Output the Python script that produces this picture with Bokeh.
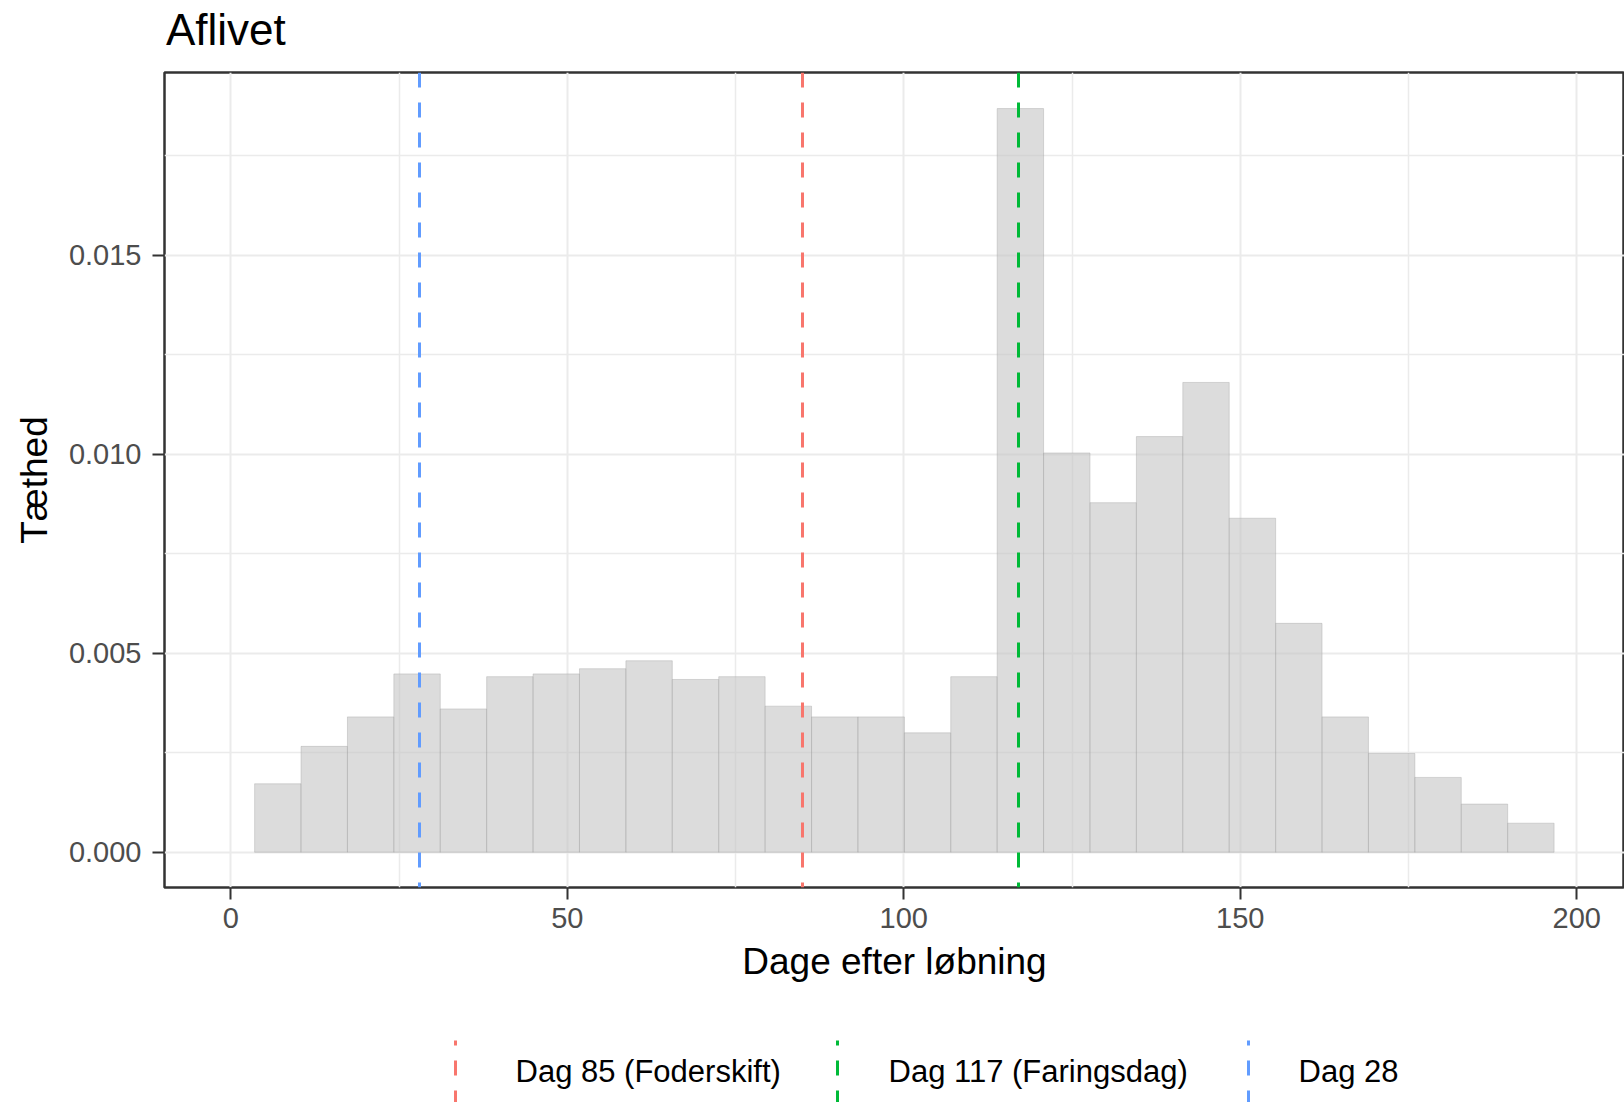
from bokeh.plotting import figure
from bokeh.layouts import column
from bokeh.models import Range1d, FixedTicker, Div
from bokeh.core.properties import value
from bokeh.embed import file_html
from bokeh.resources import INLINE

# ---- data ----
bin_start = 3.54          # left edge of first histogram bin (days)
bin_width = 6.896         # histogram bin width (days)
density = [0.00172, 0.00266, 0.00340, 0.00448, 0.00360, 0.00441, 0.00448,
           0.00461, 0.00481, 0.00434, 0.00441, 0.00367, 0.00340, 0.00340,
           0.00300, 0.00441, 0.01868, 0.01003, 0.00878, 0.01044, 0.01180,
           0.00839, 0.00575, 0.00340, 0.00248, 0.00188, 0.00121, 0.00073]

vline_days = [85, 117, 28]
vline_labels = ["Dag 85 (Foderskift)", "Dag 117 (Faringsdag)", "Dag 28"]
vline_colors = ["#F8766D", "#00BA38", "#619CFF"]

title_text = "Aflivet"
x_title = "Dage efter løbning"
y_title = "Tæthed"

x_ticks = [0, 50, 100, 150, 200]
x_minor = [25, 75, 125, 175]
y_ticks = [0.0, 0.005, 0.010, 0.015]
y_minor = [0.0025, 0.0075, 0.0125, 0.0175]
y_tick_labels = ["0.000", "0.005", "0.010", "0.015"]

bin_left = [bin_start + i * bin_width for i in range(len(density))]
bin_right = [b + bin_width for b in bin_left]

FONT = "Liberation Sans"
W = 1624
H_TITLE = 58
H_MAIN = 1030 - H_TITLE
H_LEG = 72
LEFT = 164
VLINE_W = 3
DASH = "15 15"

# ---- title ----
title = Div(text=title_text, width=W, height=H_TITLE,
            styles={"font-family": FONT, "font-size": "44px", "line-height": "44px",
                    "color": "black", "padding-top": "8px", "padding-left": "166px",
                    "box-sizing": "border-box", "margin": "0"})

# ---- main panel ----
p = figure(width=W, height=H_MAIN, output_backend="svg", toolbar_location=None,
           x_range=Range1d(-9.85, 207.09), y_range=Range1d(-0.000885, 0.019585),
           min_border_left=LEFT, min_border_right=0, min_border_top=72 - H_TITLE,
           min_border_bottom=H_MAIN - (887 - H_TITLE))

p.background_fill_color = "white"
p.border_fill_color = "white"
p.outline_line_color = "#333333"
p.outline_line_width = 2.5

# grid
p.xgrid.ticker = FixedTicker(ticks=x_ticks, minor_ticks=x_minor)
p.ygrid.ticker = FixedTicker(ticks=y_ticks, minor_ticks=y_minor)
for g in (p.xgrid, p.ygrid):
    g.grid_line_color = "#EBEBEB"
    g.grid_line_width = 2
    g.minor_grid_line_color = "#EBEBEB"
    g.minor_grid_line_width = 1.5

# axes
p.xaxis.ticker = FixedTicker(ticks=x_ticks)
p.yaxis.ticker = FixedTicker(ticks=y_ticks)
p.yaxis.major_label_overrides = {t: s for t, s in zip(y_ticks, y_tick_labels)}
for ax in (p.xaxis, p.yaxis):
    ax.axis_line_color = None
    ax.major_tick_line_color = "#333333"
    ax.major_tick_line_width = 2
    ax.major_tick_out = 12
    ax.major_tick_in = 0
    ax.minor_tick_line_color = None
    ax.major_label_text_font = FONT
    ax.major_label_text_font_size = "29px"
    ax.major_label_text_color = "#4D4D4D"
    ax.axis_label_text_font = FONT
    ax.axis_label_text_font_size = "37px"
    ax.axis_label_text_font_style = "normal"
    ax.axis_label_text_color = "black"
p.xaxis.axis_label = x_title
p.yaxis.axis_label = y_title
p.xaxis.major_label_standoff = 8
p.yaxis.major_label_standoff = 11
p.xaxis.axis_label_standoff = 10
p.yaxis.axis_label_standoff = 11

# histogram
p.quad(left=bin_left, right=bin_right, bottom=0, top=density,
       fill_color="#C5C5C5", fill_alpha=0.6,
       line_color="#9A9A9A", line_alpha=0.35, line_width=1)

# vertical reference lines
for d, c in zip(vline_days, vline_colors):
    p.vspan(x=[d], line_color=c, line_width=VLINE_W, line_dash=DASH)

# ---- legend strip below the plot (ggplot-style vertical dashed keys) ----
# layout positions of the legend (page pixels), not data
key_x = [455, 837, 1248]
label_x = [515, 888, 1298]
key_bottom, key_top, label_y = -3, 62, 31

leg = figure(width=W, height=H_LEG, output_backend="svg", toolbar_location=None,
             x_range=Range1d(LEFT, W), y_range=Range1d(0, H_LEG),
             min_border_left=LEFT, min_border_right=0,
             min_border_top=0, min_border_bottom=0)
leg.axis.visible = False
leg.grid.visible = False
leg.outline_line_color = None
leg.background_fill_color = "white"
leg.border_fill_color = "white"

leg.segment(x0=key_x, x1=key_x, y0=[key_bottom] * 3, y1=[key_top] * 3,
            line_color=vline_colors, line_width=VLINE_W, line_dash=DASH)
leg.text(x=label_x, y=[label_y] * 3, text=vline_labels,
         text_font=value(FONT), text_font_size="31px", text_color="black",
         text_align="left", text_baseline="middle")

layout = column(title, p, leg, spacing=0)
open("out.html", "w").write(file_html(layout, INLINE))
